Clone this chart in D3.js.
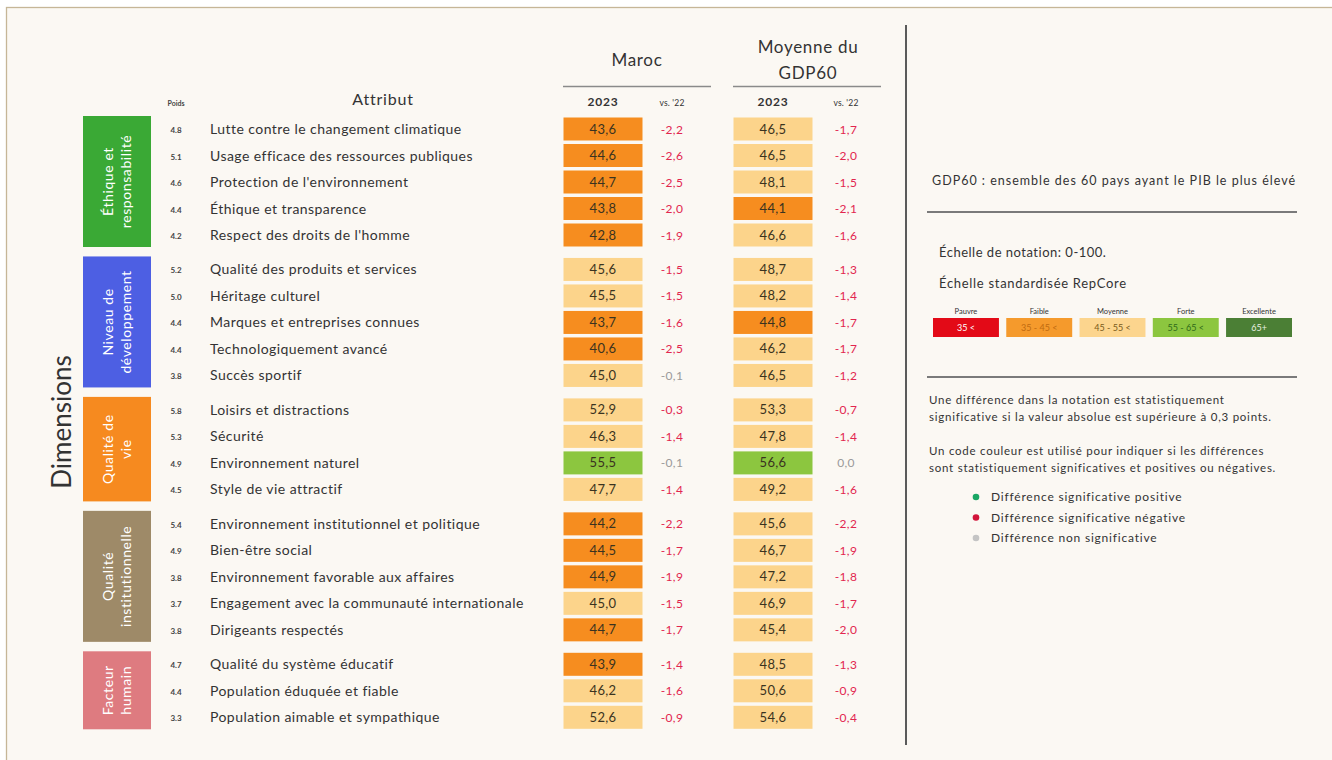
<!DOCTYPE html>
<html><head><meta charset="utf-8">
<script src="https://cdn.jsdelivr.net/npm/d3@7"></script>
<style>
html,body{margin:0;padding:0;background:#fff;}
svg{display:block;font-family:Lato,"Open Sans",sans-serif;}
</style></head>
<body>
<svg id="chart" width="1332" height="760"></svg>
<script>
// ---------- DATA ----------
const groupNames = [["Éthique et","responsabilité"],["Niveau de","développement"],["Qualité de","vie"],["Qualité","institutionnelle"],["Facteur","humain"]];
const groupColors = ["#3aa935","#4d5fe3","#f68a1f","#9e8a68","#de7b80"];
const attributes = [
 "Lutte contre le changement climatique","Usage efficace des ressources publiques","Protection de l'environnement","Éthique et transparence","Respect des droits de l'homme",
 "Qualité des produits et services","Héritage culturel","Marques et entreprises connues","Technologiquement avancé","Succès sportif",
 "Loisirs et distractions","Sécurité","Environnement naturel","Style de vie attractif",
 "Environnement institutionnel et politique","Bien-être social","Environnement favorable aux affaires","Engagement avec la communauté internationale","Dirigeants respectés",
 "Qualité du système éducatif","Population éduquée et fiable","Population aimable et sympathique"];
const attrGroup = [0,0,0,0,0,1,1,1,1,1,2,2,2,2,3,3,3,3,3,4,4,4];
const poids = [4.8,5.1,4.6,4.4,4.2,5.2,5.0,4.4,4.4,3.8,5.8,5.3,4.9,4.5,5.4,4.9,3.8,3.7,3.8,4.7,4.4,3.3];
const maroc2023 = [43.6,44.6,44.7,43.8,42.8,45.6,45.5,43.7,40.6,45.0,52.9,46.3,55.5,47.7,44.2,44.5,44.9,45.0,44.7,43.9,46.2,52.6];
const marocVs22 = [-2.2,-2.6,-2.5,-2.0,-1.9,-1.5,-1.5,-1.6,-2.5,-0.1,-0.3,-1.4,-0.1,-1.4,-2.2,-1.7,-1.9,-1.5,-1.7,-1.4,-1.6,-0.9];
const gdp2023 = [46.5,46.5,48.1,44.1,46.6,48.7,48.2,44.8,46.2,46.5,53.3,47.8,56.6,49.2,45.6,46.7,47.2,46.9,45.4,48.5,50.6,54.6];
const gdpVs22 = [-1.7,-2.0,-1.5,-2.1,-1.6,-1.3,-1.4,-1.7,-1.7,-1.2,-0.7,-1.4,0.0,-1.6,-2.2,-1.9,-1.8,-1.7,-2.0,-1.3,-0.9,-0.4];
const scaleThresholds = [35,45,55,65];
const scaleLabels = ["Pauvre","Faible","Moyenne","Forte","Excellente"];
const scaleRanges = ["35 <","35 - 45 <","45 - 55 <","55 - 65 <","65+"];
const sigLegend = ["Différence significative positive","Différence significative négative","Différence non significative"];

// ---------- SETUP ----------
const svg = d3.select("#chart");
const fr = v => d3.format(".1f")(v).replace(".", ",").replace("−","-");
const fillScale = d3.scaleThreshold().domain(scaleThresholds)
  .range(["#e30a17","#f68d1f","#fcd48b","#8cc63f","#4b7f35"]);
const diffColor = v => v >= 0.3 ? "#16a05d" : (v <= -0.3 ? "#e2264f" : "#9a9a9a");

// page frame
svg.append("rect").attr("x",6.5).attr("y",7.5).attr("width",1340).attr("height",760)
  .attr("fill","#fbf8f3").attr("stroke","#c6b697").attr("stroke-width",1.3);

// row position: index + group gap
const rowPos = attributes.map((d,i)=> i + attrGroup[i]*0.3);
const y = d3.scaleLinear().domain([0,1]).range([129,155.5]);

// column positions
const col = {poids:176, label:210, m23:603, mvs:672, g23:773, gvs:846};
const cellW = 79, cellH = 23;

// headers
svg.append("text").attr("x",383).attr("y",105).attr("text-anchor","middle")
  .attr("font-size",16).attr("letter-spacing",0.8).attr("fill","#333").text("Attribut");
svg.append("text").attr("x",col.poids).attr("y",106).attr("text-anchor","middle")
  .attr("font-size",7).attr("font-weight",700).attr("fill","#444").text("Poids");
svg.append("text").attr("x",637).attr("y",66).attr("text-anchor","middle")
  .attr("font-size",17).attr("letter-spacing",0.7).attr("fill","#333").text("Maroc");
svg.append("text").attr("x",808).attr("y",53).attr("text-anchor","middle")
  .attr("font-size",17).attr("letter-spacing",0.7).attr("fill","#333").text("Moyenne du");
svg.append("text").attr("x",808).attr("y",79).attr("text-anchor","middle")
  .attr("font-size",17).attr("letter-spacing",0.7).attr("fill","#333").text("GDP60");
[[563,711],[733,881]].forEach(([a,b])=>svg.append("line").attr("x1",a).attr("x2",b)
  .attr("y1",86.5).attr("y2",86.5).attr("stroke","#8a8a8a").attr("stroke-width",1.5));
[[col.m23,"2023"],[col.mvs,"vs. '22"],[col.g23,"2023"],[col.gvs,"vs. '22"]].forEach(([x,t])=>
  svg.append("text").attr("x",x).attr("y",106).attr("text-anchor","middle")
   .attr("font-size",t==="2023"?12:8.5).attr("letter-spacing",t==="2023"?0.8:0.2)
   .attr("font-weight",t==="2023"?700:400).attr("fill","#333").text(t));

// Dimensions label
svg.append("text").attr("transform","translate(71,422) rotate(-90)").attr("text-anchor","middle")
  .attr("font-size",26).attr("fill","#333").text("Dimensions");

// group boxes
groupNames.forEach((g,gi)=>{
  const idx = attrGroup.map((v,i)=>v===gi?i:-1).filter(i=>i>=0);
  const top = y(rowPos[idx[0]]) - 13, bot = y(rowPos[idx[idx.length-1]]) + 12;
  svg.append("rect").attr("x",83).attr("y",top).attr("width",68).attr("height",bot-top)
    .attr("fill",groupColors[gi]);
  const cy = (top+bot)/2;
  const t = svg.append("text").attr("transform",`translate(117,${cy}) rotate(-90)`)
    .attr("text-anchor","middle").attr("font-size",14).attr("letter-spacing",0.6).attr("fill","#fff");
  g.forEach((line,li)=>t.append("tspan").attr("x",0)
    .attr("dy", li===0 ? (-(g.length-1)*0.62+0.35)+"em" : "1.24em").text(line));
});

// rows
const rows = svg.append("g").selectAll("g").data(attributes).join("g")
  .attr("transform",(d,i)=>`translate(0,${y(rowPos[i])})`);
rows.append("text").attr("x",col.poids).attr("y",4).attr("text-anchor","middle")
  .attr("font-size",8).attr("font-weight",700).attr("fill","#444").text((d,i)=>poids[i].toFixed(1));
rows.append("text").attr("x",col.label).attr("y",5)
  .attr("font-size",14).attr("letter-spacing",0.45).attr("fill","#333").text(d=>d);
[[col.m23,maroc2023],[col.g23,gdp2023]].forEach(([cx,arr])=>{
  rows.append("rect").attr("x",cx-cellW/2).attr("y",-cellH/2).attr("width",cellW).attr("height",cellH)
    .attr("fill",(d,i)=>fillScale(arr[i]));
  rows.append("text").attr("x",cx).attr("y",4.5).attr("text-anchor","middle")
    .attr("font-size",13).attr("letter-spacing",0.3).attr("fill","#3a3320").text((d,i)=>fr(arr[i]));
});
[[col.mvs,marocVs22],[col.gvs,gdpVs22]].forEach(([cx,arr])=>{
  rows.append("text").attr("x",cx).attr("y",4.5).attr("text-anchor","middle")
    .attr("font-size",12).attr("letter-spacing",0.3).attr("fill",(d,i)=>diffColor(arr[i])).text((d,i)=>fr(arr[i]));
});

// vertical separator
svg.append("line").attr("x1",906).attr("x2",906).attr("y1",25).attr("y2",745)
  .attr("stroke","#5a5a5a").attr("stroke-width",2);

// right panel
svg.append("text").attr("x",932).attr("y",185).attr("font-size",12.5).attr("letter-spacing",1)
  .attr("fill","#333").text("GDP60 : ensemble des 60 pays ayant le PIB le plus élevé");
[212,377].forEach(yy=>svg.append("line").attr("x1",927).attr("x2",1297).attr("y1",yy).attr("y2",yy)
  .attr("stroke","#7a7a7a").attr("stroke-width",2));
svg.append("text").attr("x",939).attr("y",257).attr("font-size",13).attr("letter-spacing",0.5)
  .attr("fill","#333").text("Échelle de notation: 0-100.");
svg.append("text").attr("x",939).attr("y",288).attr("font-size",13).attr("letter-spacing",0.7)
  .attr("fill","#333").text("Échelle standardisée RepCore");

const lx = d3.scaleBand().domain(scaleLabels).range([933,1292]).paddingInner(0.1);
const lcol = ["#e30a17","#f59a2c","#fcd58e","#8cc63f","#4b7f35"];
const ltxt = ["#fff","#c06a10","#7a5a1a","#2f6a1a","#e8f0e0"];
scaleLabels.forEach((l,i)=>{
  svg.append("text").attr("x",lx(l)+lx.bandwidth()/2).attr("y",314).attr("text-anchor","middle")
    .attr("font-size",7.5).attr("fill","#333").text(l);
  svg.append("rect").attr("x",lx(l)).attr("y",318).attr("width",lx.bandwidth()).attr("height",19)
    .attr("fill",lcol[i]);
  svg.append("text").attr("x",lx(l)+lx.bandwidth()/2).attr("y",331).attr("text-anchor","middle")
    .attr("font-size",9).attr("fill",ltxt[i]).text(scaleRanges[i]);
});

const para = [["Une différence dans la notation est statistiquement",404],
 ["significative si la valeur absolue est supérieure à 0,3 points.",421],
 ["Un code couleur est utilisé pour indiquer si les différences",455],
 ["sont statistiquement significatives et positives ou négatives.",472]];
para.forEach(([t,yy])=>svg.append("text").attr("x",929).attr("y",yy).attr("font-size",11.5)
  .attr("letter-spacing",0.75).attr("fill","#333").text(t));

const dotCols = ["#1aa764","#d2143a","#c4c4c4"];
sigLegend.forEach((t,i)=>{
  const yy = 497 + i*20.5;
  svg.append("circle").attr("cx",976).attr("cy",yy).attr("r",3.3).attr("fill",dotCols[i]);
  svg.append("text").attr("x",991).attr("y",yy+4).attr("font-size",12).attr("letter-spacing",0.8)
    .attr("fill","#333").text(t);
});
</script>
</body></html>
